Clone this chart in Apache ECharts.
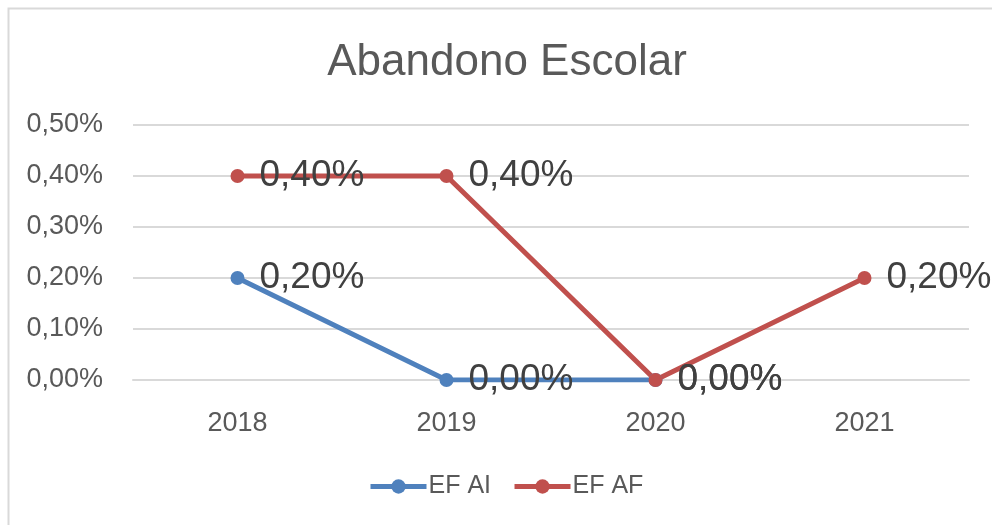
<!DOCTYPE html>
<html>
<head>
<meta charset="utf-8">
<script src="https://cdn.jsdelivr.net/npm/echarts@6/dist/echarts.min.js"></script>
<style>
  html, body { margin: 0; padding: 0; background: #fff; }
  #main { width: 992px; height: 525px; }
</style>
</head>
<body>
<div id="main"></div>
<script>
const years = ['2018', '2019', '2020', '2021'];
const efAI = [0.20, 0.00, 0.00, null];
const efAF = [0.40, 0.40, 0.00, 0.20];
const seriesNames = ['EF AI', 'EF AF'];
const colors = ['#4F81BD', '#C0504D'];

const fmt = v => v.toFixed(2).replace('.', ',') + '%';
const font = 'Liberation Sans, Arial, sans-serif';

const chart = echarts.init(document.getElementById('main'), null, { renderer: 'canvas' });

const makeSeries = (name, data, color) => ({
  name: name,
  type: 'line',
  data: data,
  symbol: 'circle',
  symbolSize: 14,
  connectNulls: false,
  lineStyle: { color: color, width: 5 },
  itemStyle: { color: color },
  label: {
    show: true,
    position: 'right',
    distance: 15,
    color: '#404040',
    fontFamily: font,
    fontSize: 37,
    formatter: p => fmt(p.value)
  },
  emphasis: { disabled: true },
  animation: false
});

chart.setOption({
  backgroundColor: '#fff',
  color: colors,
  graphic: [{
    type: 'polyline',
    shape: { points: [[8.5, 530], [8.5, 8.5], [1000, 8.5]] },
    style: { stroke: '#d9d9d9', lineWidth: 2, fill: null },
    silent: true
  }],
  title: {
    text: 'Abandono Escolar',
    left: 502,
    textAlign: 'center',
    top: 36,
    textStyle: { fontFamily: font, fontSize: 44, fontWeight: 'normal', color: '#595959' }
  },
  legend: {
    data: seriesNames,
    bottom: 21,
    left: 363,
    itemWidth: 56,
    itemHeight: 18,
    itemGap: 21,
    lineStyle: { width: 5 },
    textStyle: { fontFamily: font, fontSize: 25, color: '#595959', padding: [0, 0, 0, -3] }
  },
  grid: { left: 133, right: 23, top: 125, bottom: 145 },
  xAxis: {
    type: 'category',
    data: years,
    boundaryGap: true,
    axisLine: { show: true, lineStyle: { color: '#d9d9d9', width: 2 } },
    axisTick: { show: false },
    axisLabel: { fontFamily: font, fontSize: 27, color: '#595959', margin: 30 }
  },
  yAxis: {
    type: 'value',
    min: 0,
    max: 0.5,
    interval: 0.1,
    axisLine: { show: false },
    axisTick: { show: false },
    splitLine: { lineStyle: { color: '#d9d9d9', width: 2 } },
    axisLabel: { fontFamily: font, fontSize: 27, color: '#595959', margin: 30, formatter: v => fmt(v) }
  },
  series: [
    makeSeries(seriesNames[0], efAI, colors[0]),
    makeSeries(seriesNames[1], efAF, colors[1])
  ]
});
</script>
</body>
</html>
